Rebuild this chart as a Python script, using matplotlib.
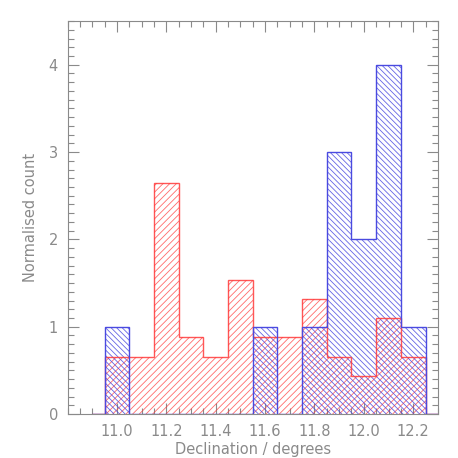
#!/usr/bin/env python
# -*- coding: utf-8 -*-

#...for the plotting.
import matplotlib
matplotlib.use('Agg')
import matplotlib.pyplot as plt

#...for the MATH.
import numpy as np

from matplotlib.ticker import MultipleLocator

# Bin centres (declination, degrees) and bin width.
bin_centres = [11.0, 11.1, 11.2, 11.3, 11.4, 11.5, 11.6, 11.7, 11.8, 11.9, 12.0, 12.1, 12.2]
bin_width = 0.1

# Normalised counts for the two samples.
red_counts = [0.65, 0.65, 2.65, 0.88, 0.65, 1.53, 0.88, 0.88, 1.32, 0.65, 0.43, 1.10, 0.65]
blue_counts = [1.0, 0.0, 0.0, 0.0, 0.0, 0.0, 1.0, 0.0, 1.0, 3.0, 2.0, 4.0, 1.0]

grey = '#8a8a8a'
red = '#ff3a3a'
blue = '#4a4ae0'

plt.rcParams['hatch.linewidth'] = 0.6
plt.rcParams['font.family'] = 'DejaVu Sans'

## The figure.
fig = plt.figure(figsize=(4.58, 4.58), dpi=100, facecolor='w')
ax = fig.add_axes([0.148, 0.096, 0.808, 0.858])

centres = np.array(bin_centres)

# Hatched fills.
ax.bar(centres, red_counts, width=bin_width, fill=False, hatch='/' * 5,
       edgecolor=red, linewidth=0, alpha=0.75, zorder=2)
ax.bar(centres, blue_counts, width=bin_width, fill=False, hatch='\\' * 6,
       edgecolor=blue, linewidth=0, alpha=0.85, zorder=2)

# Step outlines (IDL psym=10 style), padded with a half bin of zero at each end.
edges = np.concatenate([[centres[0] - bin_width],
                        centres - bin_width / 2.0,
                        [centres[-1] + bin_width / 2.0, centres[-1] + bin_width]])
ax.stairs(np.concatenate([[0], red_counts, [0]]), edges, color=red, linewidth=1.0, alpha=0.85, zorder=3)
ax.stairs(np.concatenate([[0], blue_counts, [0]]), edges, color=blue, linewidth=1.0, zorder=3)

# Axis limits and ticks.
ax.set_xlim(10.8, 12.3)
ax.set_ylim(0, 4.5)
ax.set_xticks([11.0, 11.2, 11.4, 11.6, 11.8, 12.0, 12.2])
ax.xaxis.set_minor_locator(MultipleLocator(0.05))
ax.set_yticks([0, 1, 2, 3, 4])
ax.yaxis.set_minor_locator(MultipleLocator(0.1))
ax.tick_params(which='both', direction='in', top=True, right=True, color=grey,
               labelcolor=grey, labelsize=10.5, width=0.8)
ax.tick_params(which='major', length=8, pad=7)
ax.tick_params(which='minor', length=4)
for spine in ax.spines.values():
    spine.set_color(grey)
    spine.set_linewidth(0.8)

ax.set_xlabel('Declination / degrees', color=grey, fontsize=10.5, labelpad=2)
ax.set_ylabel('Normalised count', color=grey, fontsize=10.5, labelpad=8)

# Save the figure.
fig.savefig('out.png', dpi=100, facecolor='w')
